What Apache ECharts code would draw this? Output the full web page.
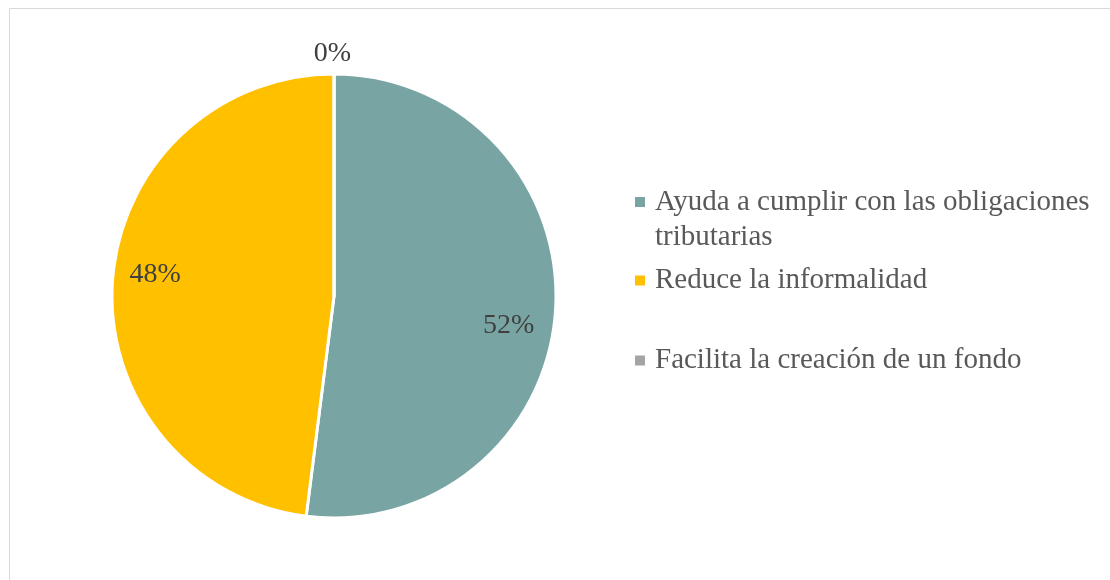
<!DOCTYPE html>
<html>
<head>
<meta charset="utf-8">
<script src="https://cdn.jsdelivr.net/npm/echarts@6/dist/echarts.min.js"></script>
<style>
  html, body { margin: 0; padding: 0; background: #ffffff; }
  #chart { width: 1110px; height: 580px; }
</style>
</head>
<body>
<div id="chart"></div>
<script>
// Survey answers and their shares (percent)
const categories = [
  'Ayuda a cumplir con las obligaciones tributarias',
  'Reduce la informalidad',
  'Facilita la creación de un fondo'
];
const values = [52, 48, 0];
const colors = ['#78A5A3', '#FFC000', '#A5A5A5'];

// Label nudges (pixels) from the library's default label anchors
const labelNudge = [
  { dx: 61, dy: 22 },
  { dx: -65, dy: -14 },
  { dx: 22, dy: -20 }
];

const font = '"Liberation Serif", "Times New Roman", serif';

const chart = echarts.init(document.getElementById('chart'), null, { renderer: 'canvas' });

const pieData = categories.map((name, i) => ({
  name: name,
  value: values[i],
  itemStyle: { color: colors[i] },
  label: i === 2
    ? { position: 'outside' }
    : { position: 'inside' },
  labelLine: { show: false, length: 0, length2: 0 }
}));

// One legend block per entry so each can sit at its own height.
// The long entry wraps; a blank first line keeps the marker level with its first text line.
function legendAt(name, top, multiLine) {
  return {
    orient: 'vertical',
    left: 630,
    top: top,
    icon: 'rect',
    itemWidth: 10,
    itemHeight: 10,
    itemGap: 0,
    selectedMode: false,
    itemStyle: { borderWidth: 0 },
    data: [name],
    formatter: multiLine ? '\nAyuda a cumplir con las obligaciones\ntributarias' : '{name}',
    textStyle: {
      fontFamily: font,
      fontSize: 29,
      lineHeight: 35,
      color: '#595959',
      padding: [0, 0, 0, 5]
    }
  };
}

chart.setOption({
  backgroundColor: '#ffffff',
  animation: false,
  graphic: [{
    type: 'rect',
    silent: true,
    shape: { x: 9.5, y: 8.5, width: 1200, height: 700 },
    style: { fill: 'none', stroke: '#d9d9d9', lineWidth: 1 }
  }],
  legend: [
    legendAt(categories[0], 144.5, true),
    legendAt(categories[1], 258, false),
    legendAt(categories[2], 338, false)
  ],
  series: [{
    type: 'pie',
    center: [334, 296],
    radius: [0, 222],
    startAngle: 90,
    clockwise: true,
    avoidLabelOverlap: false,
    percentPrecision: 0,
    silent: true,
    itemStyle: { borderColor: '#ffffff', borderWidth: 3 },
    label: {
      show: true,
      formatter: '{d}%',
      fontFamily: font,
      fontSize: 28,
      color: '#404040'
    },
    labelLayout: function (params) {
      return labelNudge[params.dataIndex];
    },
    data: pieData
  }]
});
</script>
</body>
</html>
